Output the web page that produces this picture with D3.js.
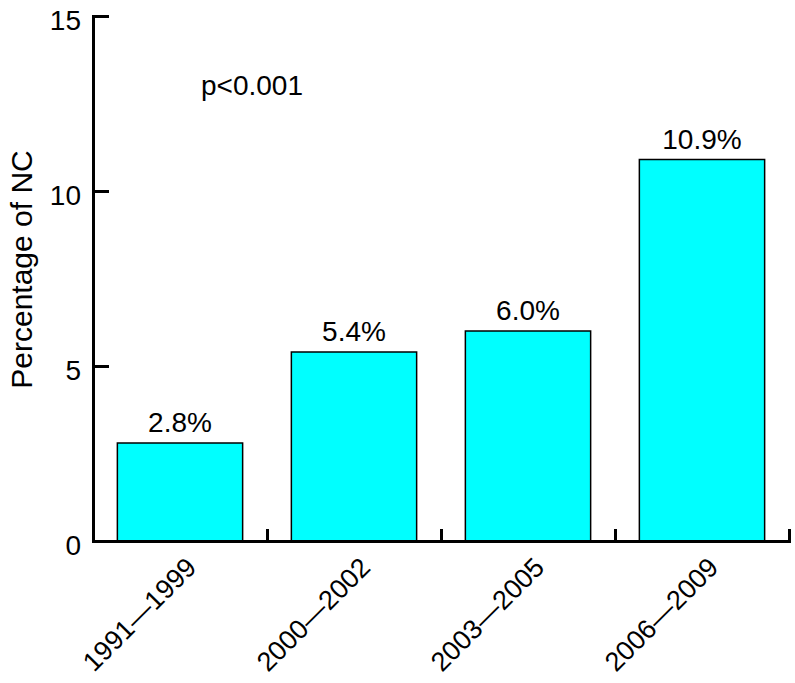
<!DOCTYPE html>
<html>
<head>
<meta charset="utf-8">
<script src="https://cdn.jsdelivr.net/npm/d3@7"></script>
<style>
  body { margin: 0; background: #fff; }
  text { font-family: "Liberation Sans", Arial, Helvetica, sans-serif; fill: #000; }
</style>
</head>
<body>
<div id="chart"></div>
<script>
const periods = ["1991\u20141999", "2000\u20142002", "2003\u20142005", "2006\u20142009"];
const percents = [2.8, 5.4, 6.0, 10.9];
const yTicks = [0, 5, 10, 15];
const pText = "p<0.001";
const yTitle = "Percentage of NC";

const width = 795, height = 683,
    plotLeft = 93, plotRight = 789, plotTop = 16, plotBottom = 541;

const svg = d3.select("#chart").append("svg")
    .attr("width", width)
    .attr("height", height);

const x = d3.scaleBand()
    .domain(periods)
    .range([plotLeft, plotRight])
    .paddingInner(0.28)
    .paddingOuter(0.14);

// boundaries between groups, for the x tick marks
const xEdge = d3.scaleLinear()
    .domain([0, periods.length])
    .range([plotLeft, plotRight]);

const y = d3.scaleLinear()
    .domain([0, 15])
    .range([plotBottom, plotTop]);

// bars
svg.selectAll(".bar")
    .data(percents)
    .enter().append("rect")
    .attr("class", "bar")
    .attr("x", (d, i) => x(periods[i]))
    .attr("y", d => y(d))
    .attr("width", x.bandwidth())
    .attr("height", d => y(0) - y(d))
    .style("fill", "#00ffff")
    .style("stroke", "#000")
    .style("stroke-width", 1.5);

// value labels
svg.selectAll(".val")
    .data(percents)
    .enter().append("text")
    .attr("class", "val")
    .attr("x", (d, i) => x(periods[i]) + x.bandwidth() / 2)
    .attr("y", d => y(d) - 11)
    .style("text-anchor", "middle")
    .style("font-size", "28px")
    .text(d => d.toFixed(1) + "%");

// y axis, ticks pointing inward
const yAxis = svg.append("g")
    .attr("transform", "translate(" + plotLeft + ",0)")
    .call(d3.axisLeft(y).tickValues(yTicks).tickSizeInner(-16).tickSizeOuter(0).tickPadding(12));

// x axis, ticks at group boundaries pointing up
const xAxis = svg.append("g")
    .attr("transform", "translate(0," + plotBottom + ")")
    .call(d3.axisBottom(xEdge).tickValues(d3.range(1, periods.length + 1))
        .tickSizeInner(-12).tickSizeOuter(0).tickFormat(""));

[yAxis, xAxis].forEach(g => {
    g.select(".domain").style("stroke-width", 3).style("stroke-linecap", "square");
    g.selectAll(".tick line").style("stroke-width", 3);
});

yAxis.selectAll(".tick text")
    .attr("dy", "13px")
    .style("font-size", "28px")
    .style("font-family", "Liberation Sans, Arial, sans-serif");

// rotated category labels
svg.selectAll(".cat")
    .data(periods)
    .enter().append("text")
    .attr("class", "cat")
    .attr("transform", d => "translate(" + (x(d) + x.bandwidth() / 2 + 18) + "," + (plotBottom + 28) + ") rotate(-45)")
    .style("text-anchor", "end")
    .style("font-size", "27px")
    .text(d => d);

svg.append("text")
    .attr("x", 201)
    .attr("y", 95)
    .style("font-size", "28px")
    .text(pText);

svg.append("text")
    .attr("transform", "translate(32," + ((147 + 392) / 2) + ") rotate(-90)")
    .style("text-anchor", "middle")
    .style("font-size", "30px")
    .text(yTitle);
</script>
</body>
</html>
